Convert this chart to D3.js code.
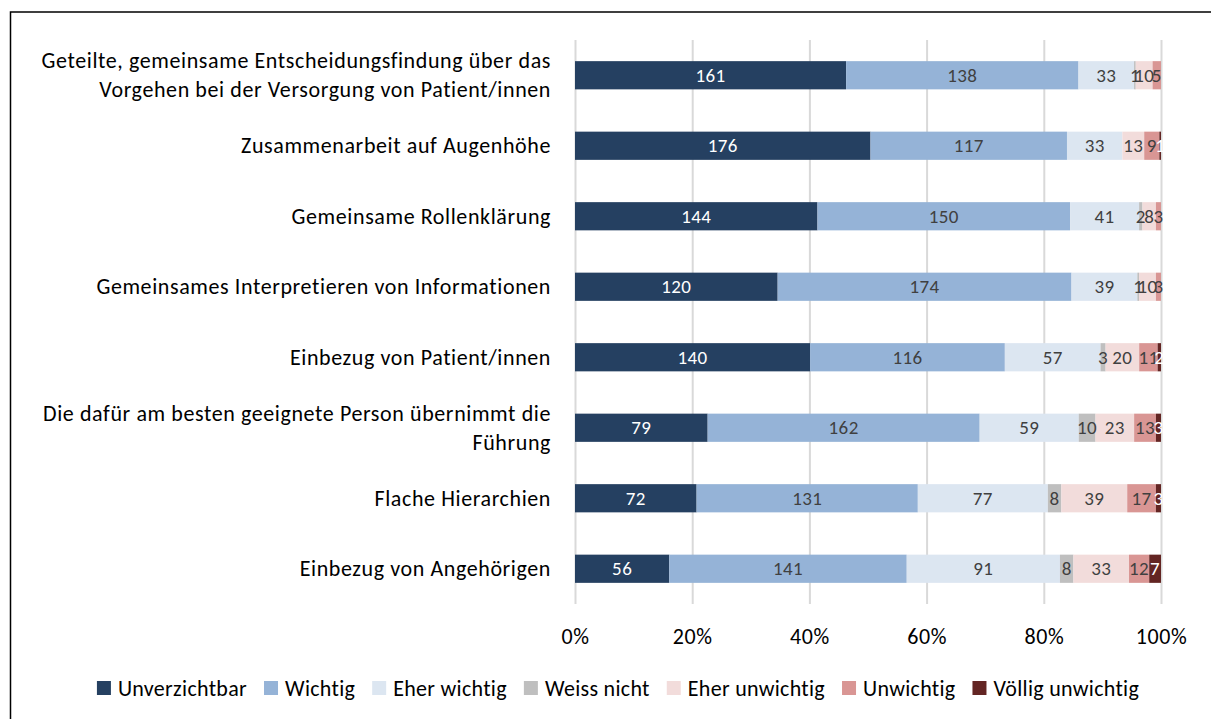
<!DOCTYPE html>
<html>
<head>
<meta charset="utf-8">
<script src="https://cdn.jsdelivr.net/npm/d3@7"></script>
<style>
  body { margin: 0; background: #fff; }
  text { font-family: Carlito, Calibri, Lato, sans-serif; }
</style>
</head>
<body>
<div id="chart"></div>
<script>
// data
var categories = [
  ["Geteilte, gemeinsame Entscheidungsfindung über das", "Vorgehen bei der Versorgung von Patient/innen"],
  ["Zusammenarbeit auf Augenhöhe"],
  ["Gemeinsame Rollenklärung"],
  ["Gemeinsames Interpretieren von Informationen"],
  ["Einbezug von Patient/innen"],
  ["Die dafür am besten geeignete Person übernimmt die", "Führung"],
  ["Flache Hierarchien"],
  ["Einbezug von Angehörigen"]
];
var seriesNames = ["Unverzichtbar", "Wichtig", "Eher wichtig", "Weiss nicht", "Eher unwichtig", "Unwichtig", "Völlig unwichtig"];
var unverzichtbar = [161, 176, 144, 120, 140, 79, 72, 56];
var wichtig       = [138, 117, 150, 174, 116, 162, 131, 141];
var eherWichtig   = [33, 33, 41, 39, 57, 59, 77, 91];
var weissNicht    = [1, 0, 2, 1, 3, 10, 8, 8];
var eherUnwichtig = [10, 13, 8, 10, 20, 23, 39, 33];
var unwichtig     = [5, 9, 3, 3, 11, 13, 17, 12];
var voellig       = [0, 1, 0, 0, 2, 3, 3, 7];
var tickValues = [0, 0.2, 0.4, 0.6, 0.8, 1];

var colors = ["#254061", "#95b3d7", "#dce6f1", "#bfbfbf", "#f2dcdb", "#d99694", "#632523"];
var labelColors = ["#ffffff", "#404040", "#404040", "#404040", "#404040", "#404040", "#ffffff"];

var svgWidth = 1211, svgHeight = 719;
var svg = d3.select("#chart").append("svg")
  .attr("width", svgWidth)
  .attr("height", svgHeight);

// outer frame (only left + top visible)
svg.append("rect")
  .attr("x", 10.5).attr("y", 12)
  .attr("width", 1300).attr("height", 800)
  .attr("fill", "none")
  .attr("stroke", "#000")
  .attr("stroke-width", 1.5);

var plot = { left: 575, right: 1161, top: 40, bottom: 604 };

// build rows
var allSeries = [unverzichtbar, wichtig, eherWichtig, weissNicht, eherUnwichtig, unwichtig, voellig];
var rows = categories.map(function(c, i) {
  var vals = allSeries.map(function(s) { return s[i]; });
  var total = d3.sum(vals);
  var x0 = 0;
  var segs = vals.map(function(v, k) {
    var seg = { k: k, v: v, x0: x0 / total, x1: (x0 + v) / total };
    x0 += v;
    return seg;
  });
  return { i: i, label: c, segs: segs };
});

var x = d3.scaleLinear().domain([0, 1]).range([plot.left, plot.right]);
var y = d3.scaleBand().domain(d3.range(categories.length))
  .range([plot.top, plot.bottom]).paddingInner(0.6).paddingOuter(0.3);

// gridlines + tick labels
var xAxis = d3.axisBottom(x)
  .tickValues(tickValues)
  .tickFormat(d3.format(".0%"))
  .tickSize(-(plot.bottom - plot.top))
  .tickPadding(24);

var axisG = svg.append("g")
  .attr("transform", `translate(0, ${plot.bottom})`)
  .call(xAxis);
axisG.select(".domain").remove();
axisG.selectAll("line").attr("stroke", "#d9d9d9").attr("stroke-width", 2);
axisG.selectAll("text").attr("font-size", "22px").attr("fill", "#000")
  .attr("letter-spacing", "0.6px")
  .style("font-family", "Carlito, Calibri, Lato, sans-serif");

// bars
var rowG = svg.selectAll("g.row")
  .data(rows)
  .enter()
  .append("g")
  .attr("class", "row")
  .attr("transform", d => `translate(0, ${y(d.i)})`);

rowG.selectAll("rect")
  .data(d => d.segs.filter(s => s.v > 0))
  .enter()
  .append("rect")
  .attr("x", s => x(s.x0))
  .attr("width", s => x(s.x1) - x(s.x0))
  .attr("y", 0)
  .attr("height", y.bandwidth())
  .attr("fill", s => colors[s.k]);

rowG.selectAll("text.val")
  .data(d => d.segs.filter(s => s.v > 0))
  .enter()
  .append("text")
  .attr("class", "val")
  .attr("x", s => (x(s.x0) + x(s.x1)) / 2)
  .attr("y", y.bandwidth() / 2)
  .attr("dy", "0.35em")
  .attr("text-anchor", "middle")
  .attr("font-size", "19px")
  .attr("letter-spacing", "0.4px")
  .attr("fill", s => labelColors[s.k])
  .text(s => s.v);

// category labels
rowG.append("text")
  .attr("text-anchor", "end")
  .attr("font-size", "22px")
  .attr("letter-spacing", "0.6px")
  .attr("fill", "#000")
  .each(function(d) {
    var t = d3.select(this);
    var n = d.label.length;
    d.label.forEach(function(line, j) {
      t.append("tspan")
        .attr("x", 551)
        .attr("y", y.bandwidth() / 2 + (j - (n - 1) / 2) * 29)
        .attr("dy", "0.35em")
        .text(line);
    });
  });

// legend
var legend = svg.append("g");
var lx = 0;
seriesNames.forEach(function(name, k) {
  var g = legend.append("g").attr("transform", `translate(${lx}, 0)`);
  g.append("rect").attr("x", 0).attr("y", -7).attr("width", 14).attr("height", 14).attr("fill", colors[k]);
  var t = g.append("text").attr("x", 21).attr("y", 0).attr("dy", "0.35em")
    .attr("font-size", "22px").attr("letter-spacing", "0.3px")
    .attr("fill", "#000").text(name);
  lx += 21 + t.node().getComputedTextLength() + 17;
});
lx -= 17;
legend.attr("transform", `translate(${618 - lx / 2}, 688)`);
</script>
</body>
</html>
